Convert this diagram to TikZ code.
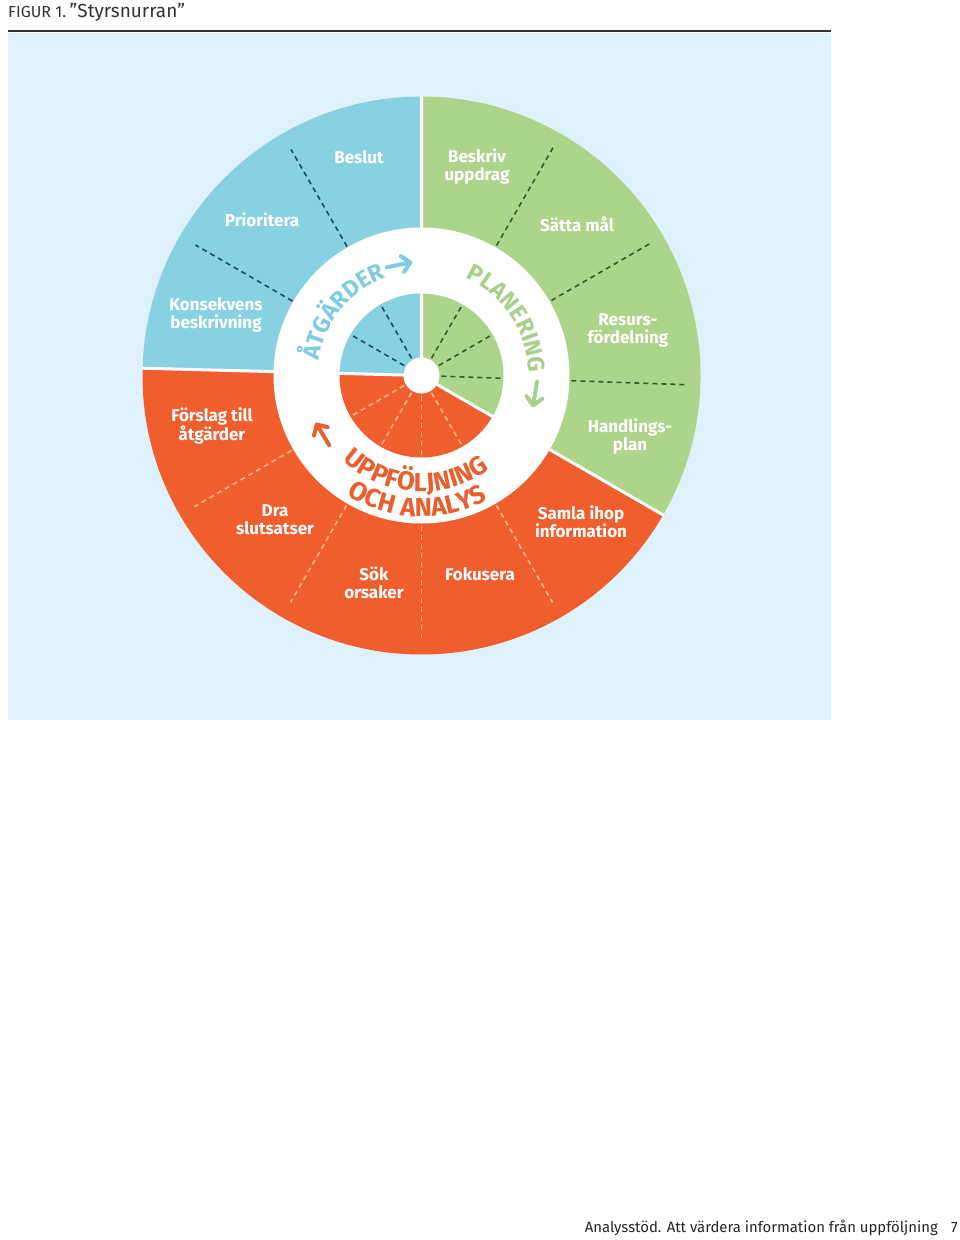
\documentclass[tikz,border=0pt]{standalone}
\usepackage{fontspec}
\setmainfont{Fira Sans}
\usetikzlibrary{decorations.text}
\definecolor{bgc}{HTML}{DFF2FB}
\definecolor{bluec}{HTML}{87D1E2}
\definecolor{greenc}{HTML}{ACD48A}
\definecolor{orangec}{HTML}{F05E2E}
\definecolor{atgc}{HTML}{7FCBE0}
\definecolor{planc}{HTML}{A8D08A}
\definecolor{uppc}{HTML}{E9602E}
\definecolor{bdash}{HTML}{1D4A6A}
\definecolor{gdash}{HTML}{2D5E30}
\definecolor{odash}{HTML}{F9B88C}
\definecolor{titlec}{HTML}{333333}
\begin{document}
\begin{tikzpicture}[x=1pt,y=1pt,
  lbl/.style={text=white, align=center, font=\fontsize{17}{18}\selectfont\bfseries, inner sep=0pt},
  dsh/.style={line width=1.6pt, dash pattern=on 5pt off 4pt},
  gapline/.style={white, line width=3pt},
  ringarr/.pic={\draw[line width=4pt, line cap=round, line join=round] (-12,0) -- (12,0) (4,-8) -- (12,0) -- (4,8);}
]
\useasboundingbox (0,0) rectangle (960,-1240);
\fill[white] (0,0) rectangle (960,-1240);
% title
\node[anchor=base west, inner sep=0pt, text=titlec] (title) at (8,-17)
  {{\fontsize{16}{16}\selectfont FIGUR 1.} {\fontsize{19}{20}\selectfont ”Styrsnurran”}};
\draw[line width=2pt, titlec] (8,-31.2) -- (831,-31.2);
\fill[bgc] (8,-32.5) rectangle (831,-720);
% wheel
\begin{scope}[shift={(421.5,-375.5)}]
  \fill[bluec] (0,0) -- (90:279) arc[start angle=90,end angle=178.5,radius=279] -- cycle;
  \fill[orangec] (0,0) -- (178.5:279) arc[start angle=178.5,end angle=330,radius=279] -- cycle;
  \fill[greenc] (0,0) -- (-30:279) arc[start angle=-30,end angle=90,radius=279] -- cycle;
  \fill[white] (0,0) circle[radius=148];
  \fill[bluec] (0,0) -- (90:82) arc[start angle=90,end angle=178.5,radius=82] -- cycle;
  \fill[orangec] (0,0) -- (178.5:82) arc[start angle=178.5,end angle=330,radius=82] -- cycle;
  \fill[greenc] (0,0) -- (-30:82) arc[start angle=-30,end angle=90,radius=82] -- cycle;
  \draw[gapline] (0,0) -- (90:279.5) (0,0) -- (178.5:279.5) (0,0) -- (-30:279.5);
  \foreach \a in {120,150} {
    \draw[dsh,bdash] (\a:149) -- (\a:261);
    \draw[dsh,bdash] (\a:20) -- (\a:79);}
  \foreach \a in {60,30,-2} {
    \draw[dsh,gdash] (\a:150) -- (\a:263);
    \draw[dsh,gdash] (\a:20) -- (\a:79);}
  \foreach \a in {210,240,270,300} {
    \draw[dsh,odash] (\a:150) -- (\a:262);
    \draw[dsh,odash] (\a:20) -- (\a:79);}
  \fill[white] (0,0) circle[radius=18];
  % ring words
  \path[decorate, decoration={text along path, text align=center,
     text={|\fontsize{23.5}{23.5}\selectfont\bfseries\color{atgc}|ÅTGÄRDER}}]
     (200.9:104) arc[start angle=200.9, end angle=80.9, radius=104];
  \path[decorate, decoration={text along path, text align=center,
     text={|\fontsize{23.5}{23.5}\selectfont\bfseries\color{planc}|PLANERING}}]
     (93.5:107) arc[start angle=93.5, end angle=-26.5, radius=107];
  \path[decorate, decoration={text along path, text align=center,
     text={|\fontsize{26}{26}\selectfont\bfseries\color{uppc}|UPPFÖLJNING}}]
     (206.5:116) arc[start angle=206.5, end angle=326.5, radius=116];
  \path[decorate, decoration={text along path, text align=center,
     text={|\fontsize{26}{26}\selectfont\bfseries\color{uppc}|OCH ANALYS}}]
     (208.2:141) arc[start angle=208.2, end angle=328.2, radius=141];
  \pic[rotate=11.7, color=atgc] at (101.7:113) {ringarr};
  \pic[rotate=-99, color=planc] at (-9:115) {ringarr};
  \pic[rotate=121, color=uppc] at (211:115) {ringarr};
\end{scope}
% labels
\node[lbl] (beslut) at (359,-157) {Beslut};
\node[lbl] (beskriv) at (477,-166) {Beskriv\\uppdrag};
\node[lbl] (prio) at (262,-220) {Prioritera};
\node[lbl] (satta) at (577,-224) {Sätta mål};
\node[lbl] (kons) at (216,-315) {Konsekvens\\beskrivning};
\node[lbl] (resurs) at (628,-330) {Resurs-\\fördelning};
\node[lbl] (forslag) at (212,-426) {Förslag till\\åtgärder};
\node[lbl] (handl) at (630,-436) {Handlings-\\plan};
\node[lbl] (dra) at (275,-520) {Dra\\slutsatser};
\node[lbl] (samla) at (581,-522) {Samla ihop\\information};
\node[lbl] (sok) at (374,-583) {Sök\\orsaker};
\node[lbl] (fok) at (480,-574) {Fokusera};
% footer
\node[anchor=base east, inner sep=0pt, text=black!85, font=\fontsize{14.9}{15}\selectfont] (foot) at (938,-1232)
  {Analysstöd. Att värdera information från uppföljning};
\node[anchor=base east, inner sep=0pt, text=black!85, font=\fontsize{14.9}{15}\selectfont] (pnum) at (958,-1232) {7};
\end{tikzpicture}
\end{document}
